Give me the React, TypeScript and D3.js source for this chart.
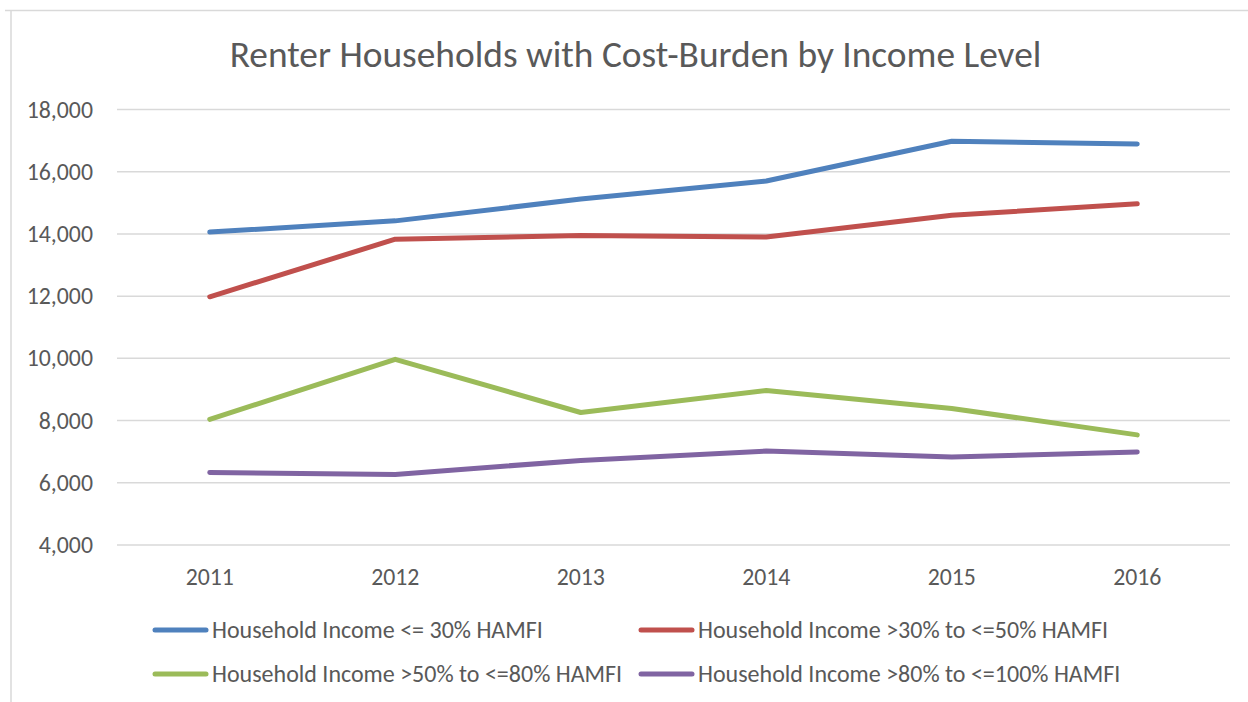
import React from 'react';
import * as d3 from 'd3';

const years = ['2011', '2012', '2013', '2014', '2015', '2016'];
const seriesNames = [
  'Household Income <= 30% HAMFI',
  'Household Income >30% to <=50% HAMFI',
  'Household Income >50% to <=80% HAMFI',
  'Household Income >80% to <=100% HAMFI',
];
const incomeUnder30 = [14060, 14420, 15120, 15700, 16980, 16890];
const income30to50 = [11980, 13830, 13950, 13900, 14600, 14970];
const income50to80 = [8040, 9970, 8260, 8970, 8390, 7540];
const income80to100 = [6330, 6270, 6720, 7020, 6830, 6990];
const yTicks = [4000, 6000, 8000, 10000, 12000, 14000, 16000, 18000];
const colors = ['#4F81BD', '#C0504D', '#9BBB59', '#8064A2'];

const allSeries = [incomeUnder30, income30to50, income50to80, income80to100];

const W = 1248;
const H = 702;
const FONT = 'Carlito, Lato, sans-serif';
const TEXT = '#595959';

const App: React.FC = () => {
  // plot area
  const x = d3.scaleBand<string>().domain(years).range([117, 1230]);
  const y = d3.scaleLinear().domain([4000, 18000]).range([545, 109.5]);
  const fmt = d3.format(',');

  const line = d3
    .line<number>()
    .x((_, i) => (x(years[i]) as number) + x.bandwidth() / 2)
    .y((d) => y(d));

  // legend layout: 2 columns x 2 rows
  const legendPos = [
    { x: 152, y: 630 },
    { x: 638, y: 630 },
    { x: 152, y: 674 },
    { x: 638, y: 674 },
  ];

  return (
    <svg
      width={W}
      height={H}
      style={{ position: 'absolute', left: 0, top: 0, background: '#fff' }}
      fontFamily={FONT}
    >
      <rect x={0} y={0} width={W} height={H} fill="#fff" />
      {/* chart border */}
      <line x1={5} x2={W} y1={10.5} y2={10.5} stroke="#D9D9D9" strokeWidth={1.5} />
      <line x1={11} x2={11} y1={10} y2={H} stroke="#D9D9D9" strokeWidth={1.5} />

      <text x={635.5} y={67} textAnchor="middle" fontSize={37.4} fill={TEXT}>
        Renter Households with Cost-Burden by Income Level
      </text>

      {/* gridlines + y labels */}
      {yTicks.map((t) => (
        <g key={t}>
          <line x1={117} x2={1230} y1={y(t)} y2={y(t)} stroke="#D9D9D9" strokeWidth={1.5} />
          <text x={93} y={y(t) + 8} textAnchor="end" fontSize={23.8} fill={TEXT}>
            {fmt(t)}
          </text>
        </g>
      ))}

      {/* x labels */}
      {years.map((yr) => (
        <text
          key={yr}
          x={(x(yr) as number) + x.bandwidth() / 2}
          y={585}
          textAnchor="middle"
          fontSize={23.8}
          fill={TEXT}
        >
          {yr}
        </text>
      ))}

      {/* series */}
      {allSeries.map((s, i) => (
        <path
          key={seriesNames[i]}
          d={line(s) || ''}
          fill="none"
          stroke={colors[i]}
          strokeWidth={5}
          strokeLinecap="round"
          strokeLinejoin="round"
        />
      ))}

      {/* legend */}
      {seriesNames.map((name, i) => (
        <g key={name} transform={`translate(${legendPos[i].x},${legendPos[i].y})`}>
          <line x1={3} x2={54} y1={0} y2={0} stroke={colors[i]} strokeWidth={5} strokeLinecap="round" />
          <text x={60} y={8} fontSize={24} fill={TEXT}>
            {name}
          </text>
        </g>
      ))}
    </svg>
  );
};

export default App;
